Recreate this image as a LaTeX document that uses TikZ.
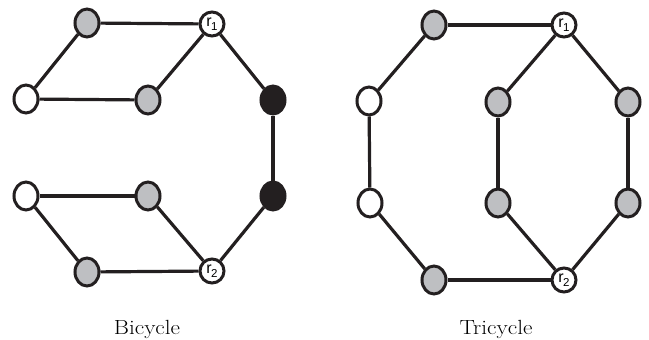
\documentclass[tikz,border=0pt]{standalone}
\usepackage{fontspec}
\setsansfont{Liberation Sans}
\usetikzlibrary{shapes.geometric}
\definecolor{ink}{RGB}{35,31,32}
\definecolor{vgray}{RGB}{190,191,194}
\tikzset{
  vx/.style={ellipse, draw=ink, line width=3pt, inner sep=0pt, minimum width=24pt, minimum height=28pt},
  gv/.style={vx, fill=vgray},
  wv/.style={vx, fill=white},
  bv/.style={vx, fill=ink},
  rv/.style={vx, fill=white, minimum width=24pt, minimum height=24pt, font=\sffamily\fontsize{16}{16}\selectfont},
  edgeline/.style={draw=ink, line width=3.2pt},
  lbl/.style={anchor=base, inner sep=0pt, font=\fontsize{20.5}{20.5}\selectfont}
}
\newcommand{\rlab}[1]{r\kern-0.5pt\raisebox{-4.5pt}{\fontsize{11.5}{11.5}\selectfont #1}}
\begin{document}
\begin{tikzpicture}[x=1pt, y=-1pt]
\useasboundingbox (0,0) rectangle (649,340);
% Bicycle
\node[gv] (a1) at (87,23) {};
\node[rv] (r1) at (212,24) {\rlab{1}};
\node[wv] (a2) at (26,99) {};
\node[gv] (a3) at (148,100) {};
\node[bv] (b1) at (273,100) {};
\node[bv] (b2) at (273,196) {};
\node[wv] (a4) at (26,196) {};
\node[gv] (a5) at (148,196) {};
\node[gv] (a6) at (87,272) {};
\node[rv] (r2) at (212,271) {\rlab{2}};
\draw[edgeline] (a1) -- (r1);
\draw[edgeline] (a1) -- (a2);
\draw[edgeline] (a2) -- (a3);
\draw[edgeline] (a3) -- (r1);
\draw[edgeline] (r1) -- (b1);
\draw[edgeline] (b1) -- (b2);
\draw[edgeline] (b2) -- (r2);
\draw[edgeline] (r2) -- (a6);
\draw[edgeline] (a6) -- (a4);
\draw[edgeline] (a4) -- (a5);
\draw[edgeline] (a5) -- (r2);
\node[lbl] (bl) at (147,334) {\scalebox{1.13}[1]{Bicycle}};
% Tricycle
\node[gv] (t1) at (434,25) {};
\node[rv] (s1) at (564,25) {\rlab{1}};
\node[wv] (t2) at (369,101) {};
\node[gv] (t3) at (498,102) {};
\node[gv] (t4) at (628,102) {};
\node[wv] (t5) at (370,203) {};
\node[gv] (t6) at (498,203) {};
\node[gv] (t7) at (628,203) {};
\node[gv] (t8) at (434,280) {};
\node[rv] (s2) at (564,280) {\rlab{2}};
\draw[edgeline] (t1) -- (s1);
\draw[edgeline] (t1) -- (t2);
\draw[edgeline] (t2) -- (t5);
\draw[edgeline] (t5) -- (t8);
\draw[edgeline] (t8) -- (s2);
\draw[edgeline] (s1) -- (t3);
\draw[edgeline] (t3) -- (t6);
\draw[edgeline] (t6) -- (s2);
\draw[edgeline] (s1) -- (t4);
\draw[edgeline] (t4) -- (t7);
\draw[edgeline] (t7) -- (s2);
\node[lbl] (tl) at (496,334) {\scalebox{1.13}[1]{Tricycle}};
\end{tikzpicture}
\end{document}
